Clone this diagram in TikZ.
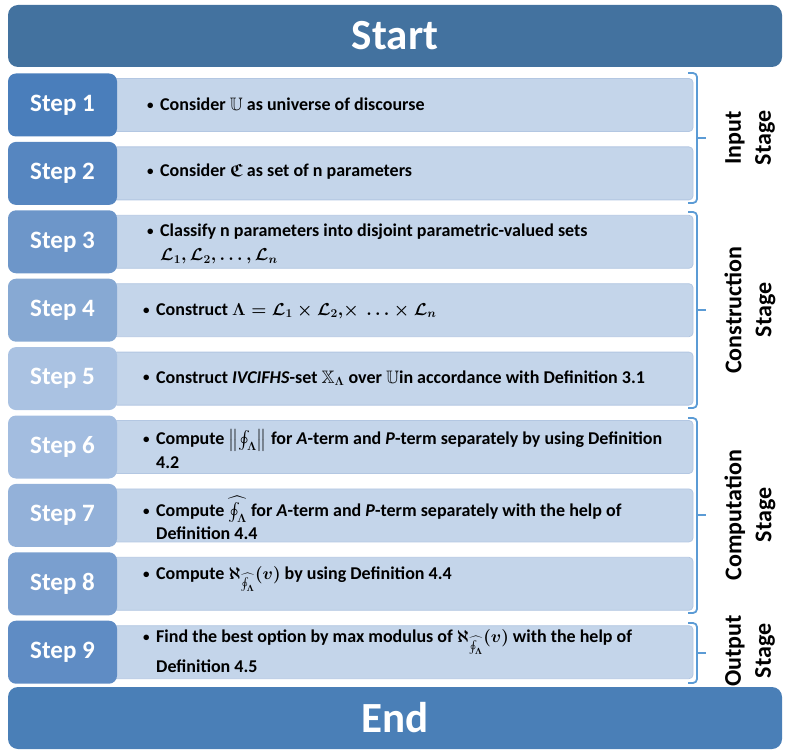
\documentclass[tikz,border=0pt]{standalone}
\usepackage{amsmath,amssymb,bm}
\usepackage{fontspec}
\setmainfont{Carlito}
\definecolor{startc}{HTML}{43729F}
\definecolor{endc}{HTML}{4A7FB7}
\definecolor{sa}{HTML}{4A7EBB}
\definecolor{sb}{HTML}{5686C0}
\definecolor{sc}{HTML}{6D96C9}
\definecolor{sd}{HTML}{87A9D3}
\definecolor{se}{HTML}{AAC2E2}
\definecolor{sf}{HTML}{A3BDE0}
\definecolor{sg}{HTML}{93B1D9}
\definecolor{sh}{HTML}{7A9FCF}
\definecolor{si}{HTML}{5F8CC4}
\definecolor{descfill}{HTML}{C4D5EA}
\definecolor{descline}{HTML}{B3C7E2}
\definecolor{bracecol}{HTML}{5B9BD5}
\tikzset{
  bigbox/.style={rounded corners=10pt, minimum width=774pt, minimum height=62pt, inner sep=0pt,
    text=white, font=\fontsize{43}{46}\selectfont\bfseries},
  stepbox/.style={rounded corners=8pt, minimum width=109pt, minimum height=63pt, inner sep=0pt,
    text=white, font=\fontsize{25}{28}\selectfont\bfseries},
  descbox/.style={fill=descfill, draw=descline, line width=0.8pt, rounded corners=4pt,
    minimum width=580pt, minimum height=53pt, inner sep=0pt},
  desctext/.style={anchor=west, align=left, inner sep=0pt,
    font=\fontsize{18}{24}\selectfont\bfseries\boldmath},
  bracepath/.style={draw=bracecol, line width=1.8pt, rounded corners=4pt},
  stagetext/.style={rotate=90, align=center, inner sep=0pt,
    font=\fontsize{24}{30}\selectfont\bfseries}
}
\newcommand{\bl}{\makebox[13pt][l]{\raisebox{1.2pt}{\fontsize{13}{13}\selectfont\textbullet}}}
\newcommand{\ind}{\hspace*{13pt}}
\begin{document}
\begin{tikzpicture}[x=1pt,y=-1pt]
\useasboundingbox (0,0) rectangle (787,751);
% start / end
\node[bigbox, fill=startc] (start) at (395,36) {Start};
\node[bigbox, fill=endc] (end) at (395,718) {End};
% description boxes
\foreach \i/\y in {1/105,2/173.4,3/241.8,4/310.2,5/378.6,6/447,7/515.4,8/583.8,9/652.2}{
  \node[descbox] (d\i) at (403,\y) {};
}
% step boxes
\node[stepbox, fill=sa] (s1) at (62.5,105) {Step 1};
\node[stepbox, fill=sb] (s2) at (62.5,173.4) {Step 2};
\node[stepbox, fill=sc] (s3) at (62.5,241.8) {Step 3};
\node[stepbox, fill=sd] (s4) at (62.5,310.2) {Step 4};
\node[stepbox, fill=se] (s5) at (62.5,378.6) {Step 5};
\node[stepbox, fill=sf] (s6) at (62.5,447) {Step 6};
\node[stepbox, fill=sg] (s7) at (62.5,515.4) {Step 7};
\node[stepbox, fill=sh] (s8) at (62.5,583.8) {Step 8};
\node[stepbox, fill=si] (s9) at (62.5,652.2) {Step 9};
% texts
\node[desctext] (t1) at (147,104) {\bl Consider $\mathbb{U}$ as universe of discourse};
\node[desctext] (t2) at (147,172) {\bl Consider $\bm{\mathfrak{C}}$ as set of n parameters};
\node[desctext] (t3) at (147,244) {\bl Classify n parameters into disjoint parametric-valued sets\\
  \ind$\mathcal{L}_1, \mathcal{L}_2, \ldots, \mathcal{L}_n$};
\node[desctext] (t4) at (143,311) {\bl Construct $\Lambda = \mathcal{L}_1 \times \mathcal{L}_2,\!\times\ \ldots \times \mathcal{L}_n$};
\node[desctext] (t5) at (143,378) {\bl Construct \textit{IVCIFHS}-set $\mathbb{X}_{\Lambda}$ over $\mathbb{U}$in accordance with Definition 3.1};
\node[desctext] (t6) at (143,449) {\bl Compute $\bigl\lVert \oint_{\Lambda} \bigr\rVert$ for \textit{A}-term and \textit{P}-term separately by using Definition\\
  \ind 4.2};
\node[desctext] (t7) at (143,518) {\bl Compute $\widehat{\oint_{\Lambda}}$ for \textit{A}-term and \textit{P}-term separately with the help of\\[-1pt]
  \ind Definition 4.4};
\node[desctext] (t8) at (143,579) {\bl Compute $\aleph_{\widehat{\oint_{\Lambda}}}(v)$ by using Definition 4.4};
\node[desctext] (t9) at (143,651) {\bl Find the best option by max modulus of $\aleph_{\widehat{\oint_{\Lambda}}}(v)$ with the help of\\[4pt]
  \ind Definition 4.5};
% braces
\foreach \t/\b/\m in {73/203/138, 212/408/310, 418/613/515, 623/683/653}{
  \draw[bracepath] (688,\t) -- (697,\t) -- (697,\b) -- (688,\b);
  \draw[bracepath, rounded corners=0pt] (697,\m) -- (706,\m);
}
% stage labels
\node[stagetext] (g1) at (750,138) {Input\\Stage};
\node[stagetext] (g2) at (750,310) {Construction\\Stage};
\node[stagetext] (g3) at (750,515) {Computation\\Stage};
\node[stagetext] (g4) at (750,651) {Output\\Stage};
\end{tikzpicture}
\end{document}
